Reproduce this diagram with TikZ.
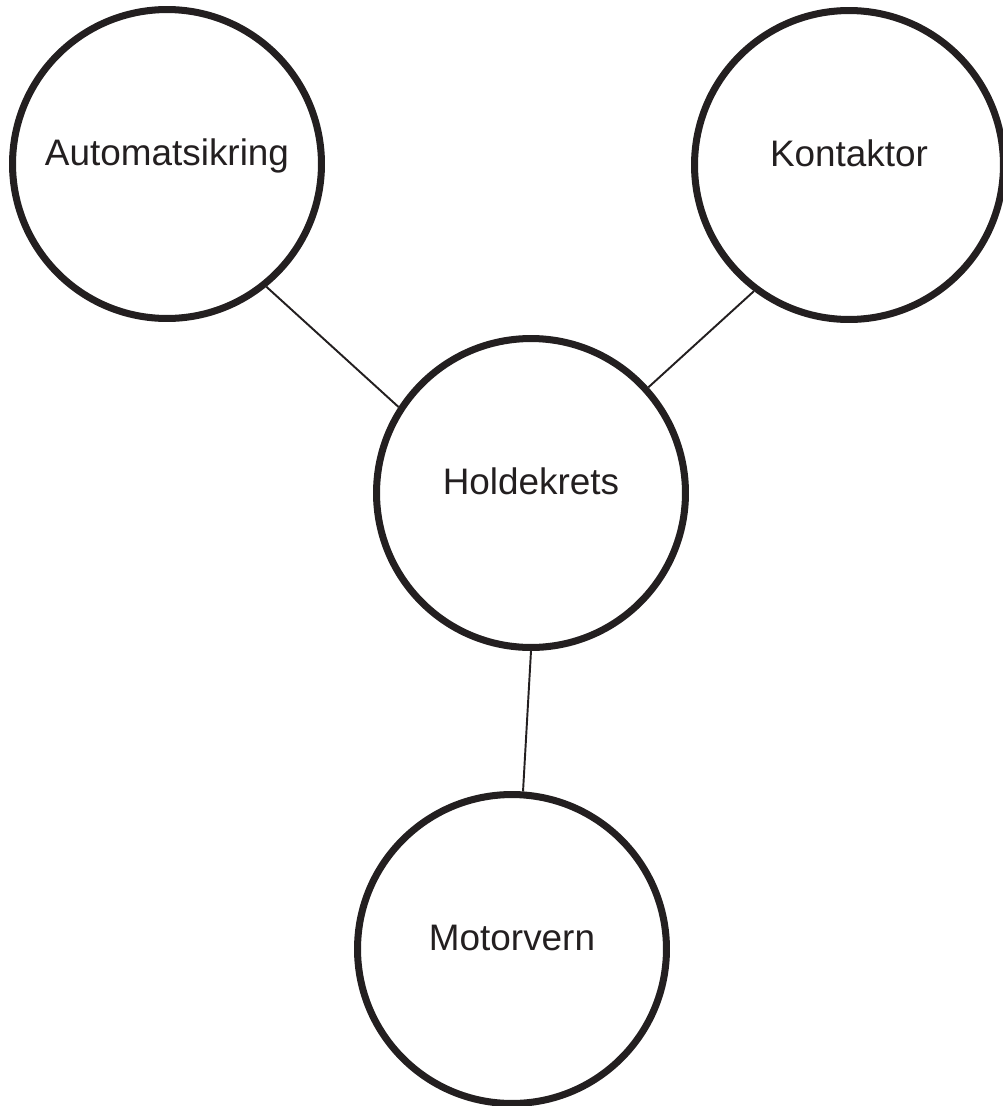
\documentclass[tikz,border=0pt]{standalone}
\usepackage{fontspec}
\setmainfont{Liberation Sans}
\usetikzlibrary{calc}
\definecolor{ink}{HTML}{231F20}

\begin{document}
\begin{tikzpicture}[x=0.02cm, y=-0.02cm,
		part/.style={circle, draw=ink, line width=4pt, minimum size=6.18cm, inner sep=0pt,
			text=ink, font=\fontsize{21}{25}\selectfont, text height=0.73em, text depth=0.55em},
		wire/.style={draw=ink, line width=1.1pt}]
			%%%%% START %%%%%
			
			\useasboundingbox (0, 0) rectangle (1003, 1106);
			
			\node[part] (auto) at (167, 164) {Automatsikring};
			\node[part] (kont) at (849, 165) {Kontaktor};
			\node[part] (hold) at (531, 493) {Holdekrets};
			\node[part] (motor) at (512, 949) {Motorvern};
			
			\draw[wire] (auto.-51) -- (hold.147);
			\draw[wire] (kont.-127) -- (hold.42);
			\draw[wire] (hold.-90) -- (motor.86);
			
			%%%%% END %%%%%
		\end{tikzpicture}
\end{document}
